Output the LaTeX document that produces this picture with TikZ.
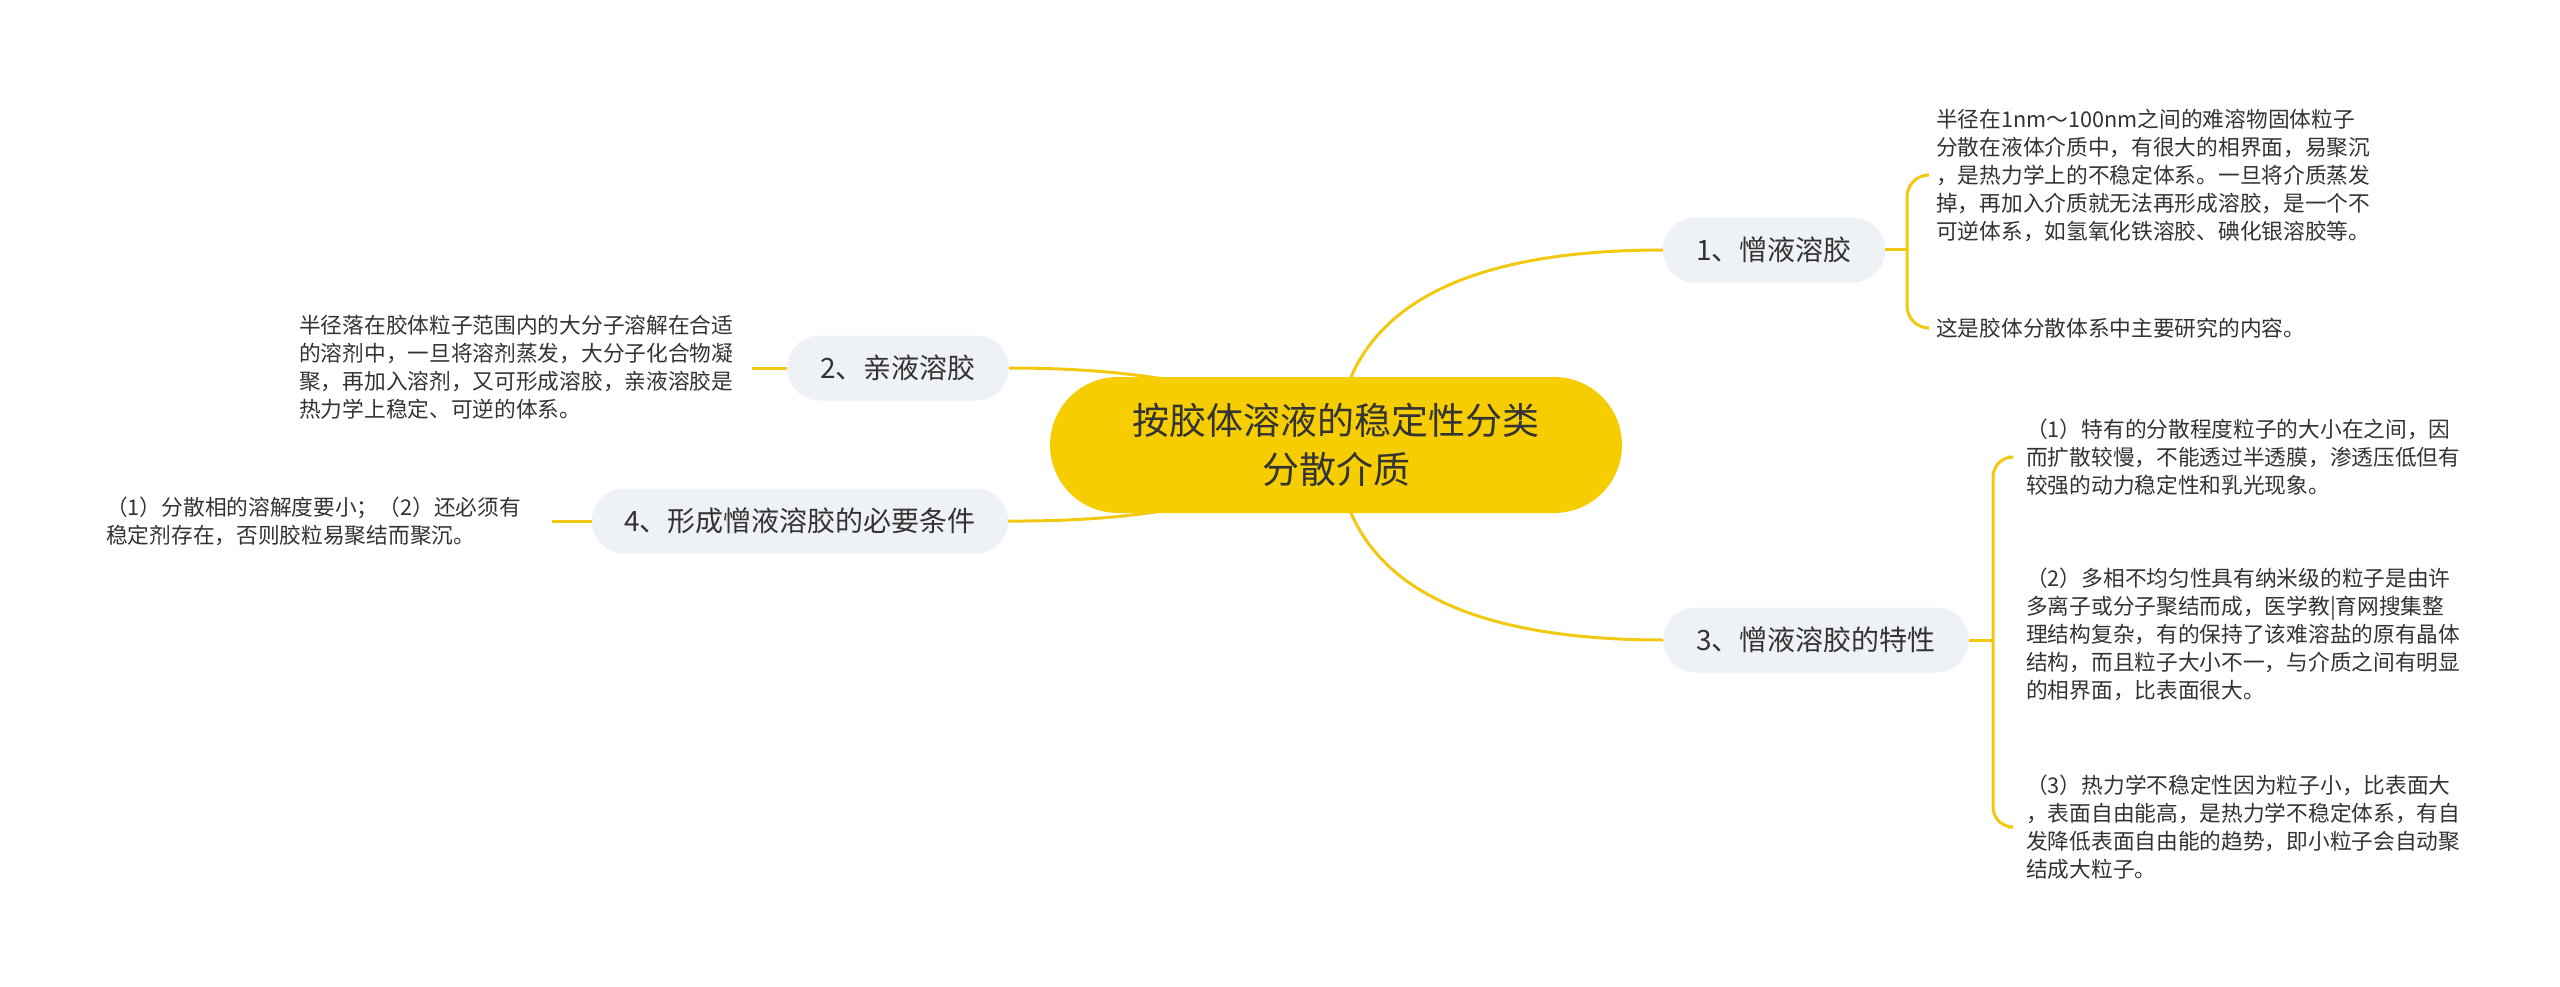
\documentclass[tikz,border=0pt]{standalone}
\usepackage{fontspec}
\setmainfont{Noto Sans CJK SC}
\usetikzlibrary{backgrounds,calc}
\definecolor{lineY}{HTML}{F2C811}
\definecolor{rootY}{HTML}{F5CD00}
\definecolor{subBG}{HTML}{EEF1F5}
\definecolor{txt}{HTML}{333333}
\begin{document}
\begin{tikzpicture}[x=1pt,y=-1pt,
  rootnode/.style={fill=rootY, rounded corners=68pt, minimum width=572pt, minimum height=136pt,
    align=center, font=\fontsize{37}{49}\selectfont, text=txt, inner sep=0pt},
  subnode/.style={fill=subBG, rounded corners=32pt, minimum height=65pt, inner sep=0pt,
    font=\fontsize{28}{34}\selectfont, text=txt},
  detail/.style={font=\fontsize{21.7}{28}\selectfont, text=txt, align=left, inner sep=0pt, anchor=west},
  conn/.style={draw=lineY, line width=3pt}]
\useasboundingbox (0,0) rectangle (2560,987);

% main nodes
\node[rootnode] (c) at (1336,445) {按胶体溶液的稳定性分类\\分散介质};
\node[subnode, minimum width=222pt] (n1) at (1774,250) {1、憎液溶胶};
\node[subnode, minimum width=221pt] (n2) at (898,368) {2、亲液溶胶};
\node[subnode, minimum width=305pt] (n3) at (1816,640) {3、憎液溶胶的特性};
\node[subnode, minimum width=416pt] (n4) at (800,521) {4、形成憎液溶胶的必要条件};

% detail texts
\node[detail] (t11) at (1936,175) {半径在1nm～100nm之间的难溶物固体粒子\\分散在液体介质中，有很大的相界面，易聚沉\\，是热力学上的不稳定体系。一旦将介质蒸发\\掉，再加入介质就无法再形成溶胶，是一个不\\可逆体系，如氢氧化铁溶胶、碘化银溶胶等。};
\node[detail] (t12) at (1936,328) {这是胶体分散体系中主要研究的内容。};
\node[detail] (t31) at (2026,457) {（1）特有的分散程度粒子的大小在之间，因\\而扩散较慢，不能透过半透膜，渗透压低但有\\较强的动力稳定性和乳光现象。};
\node[detail] (t32) at (2026,634) {（2）多相不均匀性具有纳米级的粒子是由许\\多离子或分子聚结而成，医学教|育网搜集整\\理结构复杂，有的保持了该难溶盐的原有晶体\\结构，而且粒子大小不一，与介质之间有明显\\的相界面，比表面很大。};
\node[detail] (t33) at (2026,827) {（3）热力学不稳定性因为粒子小，比表面大\\，表面自由能高，是热力学不稳定体系，有自\\发降低表面自由能的趋势，即小粒子会自动聚\\结成大粒子。};
\node[detail] (t2) at (299,367) {半径落在胶体粒子范围内的大分子溶解在合适\\的溶剂中，一旦将溶剂蒸发，大分子化合物凝\\聚，再加入溶剂，又可形成溶胶，亲液溶胶是\\热力学上稳定、可逆的体系。};
\node[detail] (t4) at (106,521) {（1）分散相的溶解度要小；（2）还必须有\\稳定剂存在，否则胶粒易聚结而聚沉。};

% connector end coordinates
\coordinate (b1) at (1907,250);
\coordinate (b3) at (1993,640);
\coordinate (e2) at (752,368);
\coordinate (e4) at (552,521);

\begin{pgfonlayer}{background}
\draw[conn] (c.center) .. controls (1342,315) and (1451,250) .. (n1.west);
\draw[conn] (c.center) .. controls (1342,575) and (1451,640) .. (n3.west);
\draw[conn] (c.center) .. controls (1272,394) and (1163,368) .. (n2.east);
\draw[conn] (c.center) .. controls (1272,496) and (1163,522) .. (n4.east);
\end{pgfonlayer}

% brackets
\draw[conn] (n1.east) -- (b1);
\draw[conn, rounded corners=22pt] ($(t11.west)+(-9,0)$) -| (b1) |- ($(t12.west)+(-9,0)$);
\draw[conn] (n3.east) -- (b3);
\draw[conn, rounded corners=20pt] ($(t31.west)+(-18,0)$) -| (b3) |- ($(t33.west)+(-18,0)$);

% left connectors
\draw[conn] (n2.west) -- (e2);
\draw[conn] (n4.west) -- (e4);
\end{tikzpicture}
\end{document}
